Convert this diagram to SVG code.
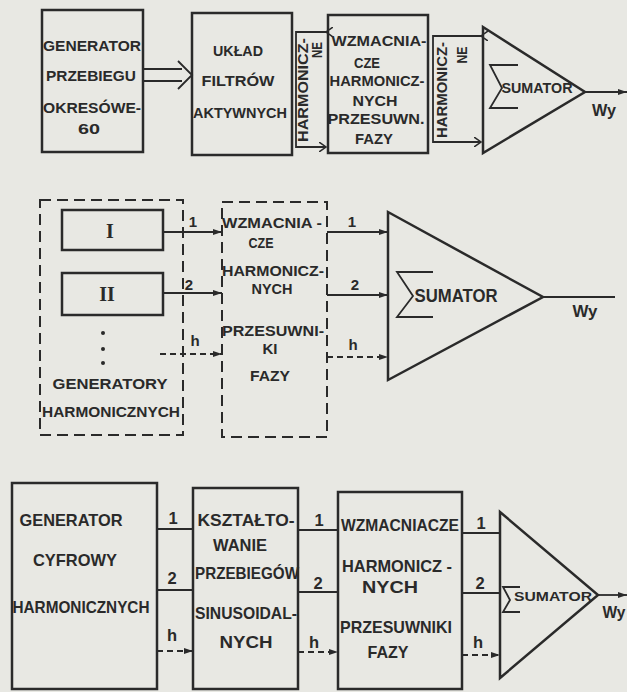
<svg xmlns="http://www.w3.org/2000/svg" width="627" height="692" viewBox="0 0 627 692">
<style>
.box{fill:none;stroke:#2a2a2a;stroke-width:2.5}
.dbox{fill:none;stroke:#2a2a2a;stroke-width:2;stroke-dasharray:11 6}
.ln{fill:none;stroke:#2a2a2a;stroke-width:1.8}
.dl{stroke-dasharray:6 4}
.t{font-family:"Liberation Sans",Arial,sans-serif;font-weight:bold;font-size:15px;fill:#2a2a2a;text-anchor:middle}
.b{font-size:16.5px}
.n{font-size:15px}
.r{font-family:"Liberation Serif","Times New Roman",serif;font-weight:bold;font-size:20px;fill:#2a2a2a;text-anchor:middle}
</style>
<defs>
<marker id="af" markerWidth="9" markerHeight="6" refX="9" refY="3" orient="auto" markerUnits="userSpaceOnUse"><path d="M0,0 L9,3 L0,6 z" fill="#2a2a2a"/></marker>
<marker id="ao" markerWidth="8" markerHeight="10" refX="7" refY="5" orient="auto" markerUnits="userSpaceOnUse"><path d="M0,0 L7,5 L0,10" fill="none" stroke="#2a2a2a" stroke-width="1.5"/></marker>
</defs>
<rect width="627" height="692" fill="#e8e8e3"/>

<!-- TOP SECTION -->
<g id="gen-okresowe">
<rect class="box" x="42" y="10" width="101" height="142"/>
<text class="t" x="92" y="51" textLength="98" lengthAdjust="spacingAndGlyphs">GENERATOR</text>
<text class="t" x="91" y="81" textLength="90" lengthAdjust="spacingAndGlyphs">PRZEBIEGU</text>
<text class="t" x="92" y="113" textLength="98" lengthAdjust="spacingAndGlyphs">OKRESÓWE-</text>
<text class="t" x="89" y="134" textLength="22" lengthAdjust="spacingAndGlyphs">60</text>
</g>
<g id="filtry">
<rect class="box" x="192" y="13" width="100" height="142"/>
<text class="t" x="238" y="56" textLength="50" lengthAdjust="spacingAndGlyphs">UKŁAD</text>
<text class="t" x="238" y="86" textLength="73" lengthAdjust="spacingAndGlyphs">FILTRÓW</text>
<text class="t" x="240" y="118" textLength="94" lengthAdjust="spacingAndGlyphs">AKTYWNYCH</text>
</g>
<g id="wzmacniacze-top">
<rect class="box" x="328" y="15" width="100" height="138"/>
<text class="t" x="379" y="46" textLength="95" lengthAdjust="spacingAndGlyphs">WZMACNIA-</text>
<text class="t" x="367" y="68" textLength="26" lengthAdjust="spacingAndGlyphs">CZE</text>
<text class="t" x="377" y="86" textLength="95" lengthAdjust="spacingAndGlyphs">HARMONICZ-</text>
<text class="t" x="375" y="106" textLength="45" lengthAdjust="spacingAndGlyphs">NYCH</text>
<text class="t" x="376" y="124" textLength="97" lengthAdjust="spacingAndGlyphs">PRZESUWN.</text>
<text class="t" x="374" y="144" textLength="38" lengthAdjust="spacingAndGlyphs">FAZY</text>
</g>
<g id="sumator-top">
<path class="box" d="M483,27 L585,92 L483,153 Z"/>
<path class="ln" d="M518,65 H490 L502,88 L490,108 H518"/>
<text class="t" x="537" y="93" textLength="71" lengthAdjust="spacingAndGlyphs" style="font-size:14px">SUMATOR</text>
<text class="t" x="604" y="116" textLength="24" lengthAdjust="spacingAndGlyphs" style="font-size:16px">Wy</text>
</g>

<!-- MIDDLE SECTION -->
<g id="generatory-harmonicznych">
<rect class="dbox" x="40" y="200" width="143" height="235"/>
<rect class="box" x="62" y="210" width="101" height="40"/>
<text class="r" x="110" y="238">I</text>
<rect class="box" x="62" y="273" width="101" height="42"/>
<text class="r" x="107" y="301">II</text>
<circle cx="103" cy="333" r="2" fill="#2a2a2a"/>
<circle cx="103" cy="349" r="2" fill="#2a2a2a"/>
<circle cx="103" cy="363" r="2" fill="#2a2a2a"/>
<text class="t" x="110" y="389" textLength="115" lengthAdjust="spacingAndGlyphs">GENERATORY</text>
<text class="t" x="111" y="417" textLength="138" lengthAdjust="spacingAndGlyphs">HARMONICZNYCH</text>
</g>
<g id="wzmacniacze-mid">
<rect class="dbox" x="222" y="202" width="105" height="235"/>
<text class="t" x="272" y="228" textLength="100" lengthAdjust="spacingAndGlyphs">WZMACNIA -</text>
<text class="t" x="261" y="248" textLength="25" lengthAdjust="spacingAndGlyphs">CZE</text>
<text class="t" x="273" y="276" textLength="102" lengthAdjust="spacingAndGlyphs">HARMONICZ-</text>
<text class="t" x="272" y="294" textLength="41" lengthAdjust="spacingAndGlyphs">NYCH</text>
<text class="t" x="273" y="336" textLength="102" lengthAdjust="spacingAndGlyphs">PRZESUWNI-</text>
<text class="t" x="270" y="354" textLength="15" lengthAdjust="spacingAndGlyphs">KI</text>
<text class="t" x="270" y="381" textLength="40" lengthAdjust="spacingAndGlyphs">FAZY</text>
</g>
<g id="sumator-mid">
<path class="box" d="M388,212 L543,297 L388,380 Z"/>
<path class="ln" d="M433,272 H397 L413,296 L397,317 H433"/>
<text class="t" x="456" y="302" textLength="83" lengthAdjust="spacingAndGlyphs" style="font-size:18px">SUMATOR</text>
<text class="t" x="585" y="317" textLength="25" lengthAdjust="spacingAndGlyphs" style="font-size:16px">Wy</text>
</g>

<!-- BOTTOM SECTION -->
<g id="generator-cyfrowy">
<rect class="box" x="12" y="483" width="145" height="206"/>
<text class="t b" x="71" y="526" textLength="103" lengthAdjust="spacingAndGlyphs">GENERATOR</text>
<text class="t b" x="75" y="566" textLength="84" lengthAdjust="spacingAndGlyphs">CYFROWY</text>
<text class="t b" x="81" y="613" textLength="137" lengthAdjust="spacingAndGlyphs">HARMONICZNYCH</text>
</g>
<g id="ksztaltowanie">
<rect class="box" x="193" y="488" width="105" height="201"/>
<text class="t b" x="246" y="526" textLength="97" lengthAdjust="spacingAndGlyphs">KSZTAŁTO-</text>
<text class="t b" x="240" y="551" textLength="54" lengthAdjust="spacingAndGlyphs">WANIE</text>
<text class="t b" x="247" y="579" textLength="104" lengthAdjust="spacingAndGlyphs">PRZEBIEGÓW</text>
<text class="t b" x="246" y="619" textLength="102" lengthAdjust="spacingAndGlyphs">SINUSOIDAL-</text>
<text class="t b" x="246" y="648" textLength="53" lengthAdjust="spacingAndGlyphs">NYCH</text>
</g>
<g id="wzmacniacze-bot">
<rect class="box" x="338" y="492" width="124" height="197"/>
<text class="t b" x="400" y="531" textLength="118" lengthAdjust="spacingAndGlyphs">WZMACNIACZE</text>
<text class="t b" x="397" y="572" textLength="110" lengthAdjust="spacingAndGlyphs">HARMONICZ -</text>
<text class="t b" x="390" y="593" textLength="56" lengthAdjust="spacingAndGlyphs">NYCH</text>
<text class="t b" x="396" y="633" textLength="112" lengthAdjust="spacingAndGlyphs">PRZESUWNIKI</text>
<text class="t b" x="388" y="658" textLength="41" lengthAdjust="spacingAndGlyphs">FAZY</text>
</g>
<g id="sumator-bot">
<path class="box" d="M500,512 L598,595 L500,678 Z"/>
<path class="ln" d="M520,587 H503 L510,600 L503,612 H520"/>
<text class="t" x="553" y="601" textLength="78" lengthAdjust="spacingAndGlyphs" style="font-size:13px">SUMATOR</text>
<text class="t" x="614" y="618" textLength="23" lengthAdjust="spacingAndGlyphs" style="font-size:16px">Wy</text>
</g>

<!-- CONNECTORS -->
<g id="connectors">
<!-- top -->
<path class="ln" d="M143,69 H182 M143,81 H182 M178,61 L192,75 L178,89"/>
<path class="ln" d="M326,32 H296 V147 H326" marker-start="url(#ao)" marker-end="url(#ao)"/>
<text class="t" transform="translate(303,90) rotate(-90)" x="0" y="5" textLength="104" lengthAdjust="spacingAndGlyphs" style="font-size:14px">HARMONICZ-</text>
<text class="t" transform="translate(317,50) rotate(-90)" x="0" y="5" textLength="16" lengthAdjust="spacingAndGlyphs" style="font-size:14px">NE</text>
<path class="ln" d="M481,36 H433 V142 H481" marker-start="url(#ao)" marker-end="url(#ao)"/>
<text class="t" transform="translate(442,90) rotate(-90)" x="0" y="5" textLength="96" lengthAdjust="spacingAndGlyphs" style="font-size:14px">HARMONICZ-</text>
<text class="t" transform="translate(462,55) rotate(-90)" x="0" y="5" textLength="17" lengthAdjust="spacingAndGlyphs" style="font-size:14px">NE</text>
<path class="ln" d="M585,92 H627" marker-end="url(#af)"/>

<!-- middle -->
<path class="ln" d="M163,232 H222" marker-end="url(#af)"/>
<path class="ln" d="M163,293 H222" marker-end="url(#af)"/>
<path class="ln dl" d="M160,354 H222" marker-end="url(#af)"/>
<text class="t n" x="193" y="227">1</text>
<text class="t n" x="189" y="290">2</text>
<text class="t n" x="195" y="346">h</text>
<path class="ln" d="M327,232 H388" marker-end="url(#af)"/>
<path class="ln" d="M327,295 H388" marker-end="url(#af)"/>
<path class="ln dl" d="M327,357 H388" marker-end="url(#af)"/>
<text class="t n" x="352" y="227">1</text>
<text class="t n" x="355" y="290">2</text>
<text class="t n" x="353" y="350">h</text>
<path class="ln" d="M543,297 H615"/>

<!-- bottom -->
<path class="ln" d="M157,529 H193"/>
<path class="ln" d="M157,590 H193"/>
<path class="ln dl" d="M157,651 H193" marker-end="url(#af)"/>
<text class="t b" x="173" y="524">1</text>
<text class="t b" x="172" y="584">2</text>
<text class="t b" x="172" y="641">h</text>
<path class="ln" d="M298,530 H338"/>
<path class="ln" d="M298,592 H338"/>
<path class="ln dl" d="M298,652 H338" marker-end="url(#af)"/>
<text class="t b" x="319" y="526">1</text>
<text class="t b" x="318" y="589">2</text>
<text class="t b" x="314" y="648">h</text>
<path class="ln" d="M462,533 H500"/>
<path class="ln" d="M462,593 H500"/>
<path class="ln dl" d="M462,655 H500" marker-end="url(#af)"/>
<text class="t b" x="481" y="529">1</text>
<text class="t b" x="480" y="589">2</text>
<text class="t b" x="478" y="648">h</text>
<path class="ln" d="M598,595 H627" marker-end="url(#af)"/>
</g>
</svg>
